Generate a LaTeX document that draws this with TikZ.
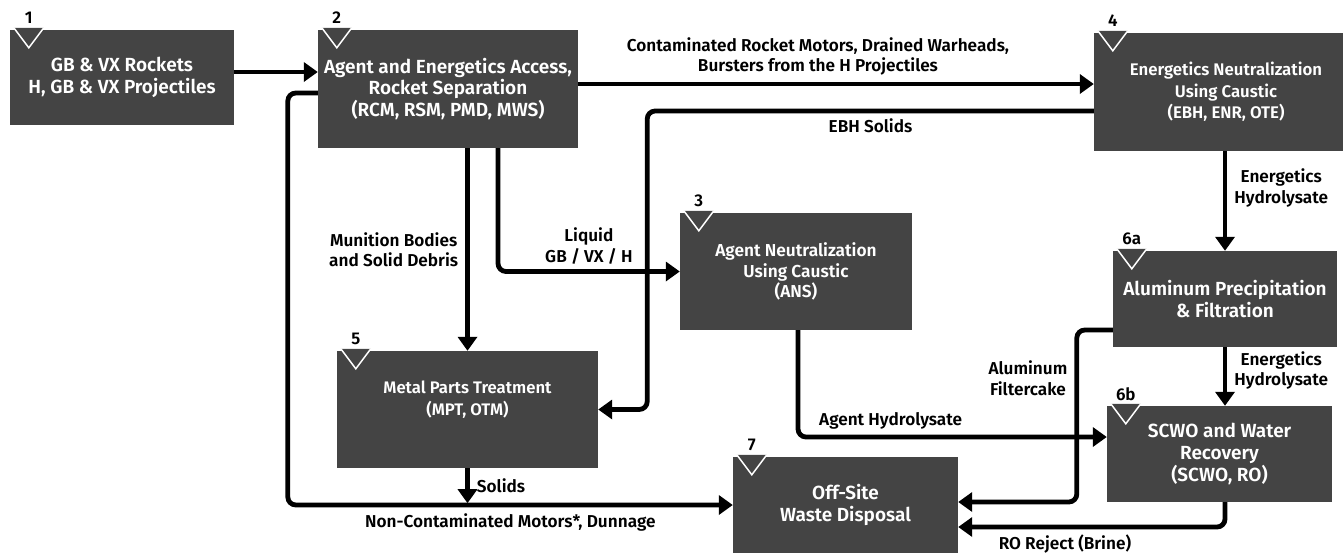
\documentclass[tikz,border=0pt]{standalone}
\usepackage{fontspec}
\setmainfont{Fira Sans SemiBold}
\usetikzlibrary{arrows.meta}
\definecolor{boxgray}{RGB}{68,68,68}

\begin{document}
\begin{tikzpicture}[x=1pt,y=-1pt,
    flow/.style={line width=4.8pt, rounded corners=8pt, -{Triangle[length=14pt,width=19pt]}}]

        \useasboundingbox (0,0) rectangle (1343,552);
        \clip (0,0) rectangle (1343,552);

        \begin{scope}[every node/.style={rectangle, fill=boxgray, text=white, align=center, inner sep=1pt,
                      font=\fontsize{19}{21.8}\selectfont}]
          \node[minimum width=224, minimum height=95]  (1)  at (122,77.5)   {GB \& VX Rockets\\H, GB \& VX Projectiles};
          \node[minimum width=260, minimum height=118] (2)  at (448,89)     {Agent and Energetics Access,\\Rocket Separation\\(RCM, RSM, PMD, MWS)};
          \node[minimum width=232, minimum height=117, font=\fontsize{17.3}{20.5}\selectfont]
                                                       (3)  at (796,271.5)  {Agent Neutralization\\Using Caustic\\(ANS)};
          \node[minimum width=264, minimum height=118, font=\fontsize{16.8}{21.5}\selectfont]
                                                       (4)  at (1226,92)    {Energetics Neutralization\\Using Caustic\\(EBH, ENR, OTE)};
          \node[minimum width=261, minimum height=117, font=\fontsize{16.7}{22}\selectfont]
                                                       (5)  at (467.5,409.5) {Metal Parts Treatment\\(MPT, OTM)\\~};
          \node[minimum width=224, minimum height=96]  (6a) at (1225,299)   {Aluminum Precipitation\\\& Filtration};
          \node[minimum width=225, minimum height=96]  (6b) at (1219.5,454) {SCWO and Water\\Recovery\\(SCWO, RO)};
          \node[minimum width=225, minimum height=96]  (7)  at (845.5,505)  {Off-Site\\Waste Disposal};
        \end{scope}

        \foreach \n in {1,2,3,4,5,6a,6b,7} {
          \fill[boxgray] ([shift={(4,-2)}]\n.north west) -- ++(30,0) -- ++(-15,20) -- cycle;
          \draw[white, line width=1.5pt] ([shift={(4,-2)}]\n.north west) -- ++(15,20) -- ++(15,-20);
          \node[font=\fontsize{17}{19}\selectfont] at ([shift={(19,-12)}]\n.north west) {\n};
        }

        \begin{scope}[every node/.style={align=center, inner sep=1pt, font=\fontsize{17.2}{20.5}\selectfont}]
          \draw[flow] ([yshift=5.5]1.east) -- ([yshift=5.5]1.east -| 2.west);
          \draw[flow] ([yshift=5]2.east) -- ([yshift=5]2.east -| 4.west)
            node[pos=0.465, above=5pt] {Contaminated Rocket Motors, Drained Warheads,\\Bursters from the H Projectiles};
          \draw[flow] ([yshift=-19]4.west) -| node[pos=0.25, below=4pt] {EBH Solids} ([xshift=49]5.east) -- (5.east);
          \draw[flow] (2.south -| 5.north) -- node[left=6pt] {Munition Bodies\\and Solid Debris} (5.north);
          \draw[flow] ([xshift=50]2.south) |- node[pos=0.75, above=4pt] {Liquid\\GB / VX / H} (3.west);
          \draw[flow] ([yshift=-4]2.west) -- ++(-30,0) |- node[pos=0.75, below=5pt] {Non-Contaminated Motors*, Dunnage} (7.west);
          \draw[flow] (5.south) -- ++(0,35) node[midway, right=6pt] {Solids};
          \draw[flow] (4.south -| 6a.north) -- node[pos=0.37, right=6pt] {Energetics\\Hydrolysate} (6a.north);
          \draw[flow] (6a.south) -- node[pos=0.4, right=6pt] {Energetics\\Hydrolysate} (6a.south |- 6b.north);
          \draw[flow] ([xshift=2]3.south) |- node[pos=0.65, above=4pt] {Agent Hydrolysate} ([yshift=17]6b.west);
          \draw[flow] ([yshift=-31]6a.west) -- ++(-36,0) |- node[pos=0.14, left=6pt] {Aluminum\\Filtercake} ([yshift=3]7.east);
          \draw[flow] ([xshift=5.5]6b.south) |- node[pos=0.8, below=4pt] {RO Reject (Brine)} ([yshift=-22]7.east);
        \end{scope}
      \end{tikzpicture}
\end{document}
